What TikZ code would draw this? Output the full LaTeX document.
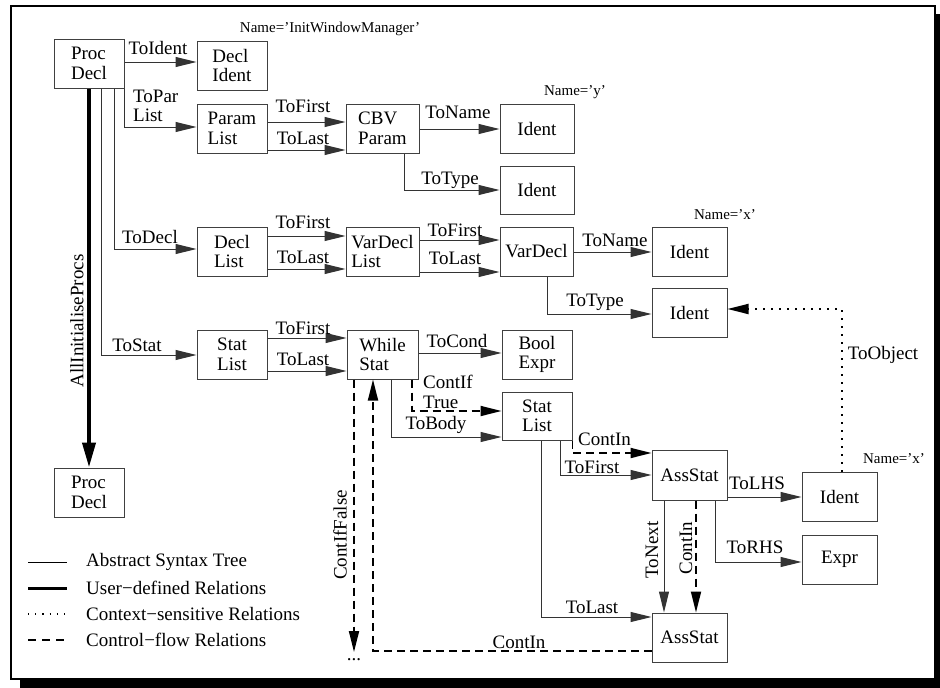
\documentclass[tikz,border=0pt]{standalone}
\usepackage{fontspec}
\setmainfont{Liberation Serif}
\usetikzlibrary{arrows.meta}
\begin{document}
\begin{tikzpicture}[x=1pt,y=-1pt,
  box/.style={draw=black!75,line width=1pt,rectangle,inner sep=0pt,minimum height=49pt,align=left,font=\fontsize{19}{19.5}\selectfont},
  lbl/.style={inner sep=0pt,font=\fontsize{19}{19.5}\selectfont},
  nm/.style={inner sep=0pt,font=\fontsize{15}{15}\selectfont},
  ast/.style={draw=black!80,line width=1pt,-{Triangle[length=21pt,width=10pt]}},
  usr/.style={draw=black,line width=4pt,-{Triangle[length=25pt,width=13pt]}},
  ctl/.style={draw=black,line width=1.8pt,dash pattern=on 8pt off 5pt,-{Triangle[length=21pt,width=10pt]}},
  ctx/.style={draw=black,line width=1.8pt,dash pattern=on 2pt off 6pt,-{Triangle[length=21pt,width=10pt]}}
]
\useasboundingbox (0,0) rectangle (940,688);
% frame with shadow
\fill[black] (20,679) rectangle (940,688);
\fill[black] (935,14) rectangle (940,688);
\draw[line width=2pt] (11,6) rectangle (935,679);

% boxes
\node[box,minimum width=70pt] (pd) at (89,63.5) {Proc\\Decl};
\node[box,minimum width=70pt] (di) at (232,65.5) {Decl\\Ident};
\node[box,minimum width=70pt] (pl) at (232,128.5) {Param\\List};
\node[box,minimum width=73pt] (cbv) at (382.5,128.5) {CBV\\Param};
\node[box,minimum width=74pt] (id1) at (537,128.5) {Ident};
\node[box,minimum width=74pt,minimum height=48pt] (id2) at (537,190) {Ident};
\node[box,minimum width=70pt] (dl) at (232,251.5) {Decl\\List};
\node[box,minimum width=73pt] (vdl) at (382.5,251.5) {VarDecl\\List};
\node[box,minimum width=73pt] (vd) at (536.5,251.5) {VarDecl};
\node[box,minimum width=75pt] (idx) at (689.5,251.5) {Ident};
\node[box,minimum width=75pt] (idt) at (689.5,312.5) {Ident};
\node[box,minimum width=70pt] (sl1) at (232,354.5) {Stat\\List};
\node[box,minimum width=71pt] (ws) at (382.5,354.5) {While\\Stat};
\node[box,minimum width=70pt] (be) at (537,354.5) {Bool\\Expr};
\node[box,minimum width=70pt,minimum height=48pt] (sl2) at (537,416) {Stat\\List};
\node[box,minimum width=70pt] (pd2) at (89,492.5) {Proc\\Decl};
\node[box,minimum width=75pt,minimum height=50pt] (as1) at (689.5,475) {AssStat};
\node[box,minimum width=75pt] (as2) at (689.5,637.5) {AssStat};
\node[box,minimum width=75pt] (id3) at (839.5,496.5) {Ident};
\node[box,minimum width=75pt] (ex) at (839.5,559.5) {Expr};

% name labels
\node[nm] (n1) at (330,29) {Name='InitWindowManager'};
\node[nm] (n2) at (575,92) {Name='y'};
\node[nm] (n3) at (725,215) {Name='x'};
\node[nm] (n4) at (894,459) {Name='x'};

% AST connectors
\draw[ast] (pd.east |- 0,62) -- (di.west |- 0,62);
\draw[ast] (pd.south east) |- (pl.west |- 0,127);
\draw[ast] (pd.south -| 114,0) |- (dl.west |- 0,249);
\draw[ast] (pd.south -| 101,0) |- (sl1.west |- 0,355);
\draw[ast] (pl.east |- 0,122) -- (cbv.west |- 0,122);
\draw[ast] (pl.east |- 0,150) -- (cbv.west |- 0,150);
\draw[ast] (cbv.east |- 0,129) -- (id1.west |- 0,129);
\draw[ast] (cbv.south -| 404,0) |- (id2.west |- 0,190);
\draw[ast] (dl.east |- 0,236) -- (vdl.west |- 0,236);
\draw[ast] (dl.east |- 0,269) -- (vdl.west |- 0,269);
\draw[ast] (vdl.east |- 0,240) -- (vd.west |- 0,240);
\draw[ast] (vdl.east |- 0,272) -- (vd.west |- 0,272);
\draw[ast] (vd.east |- 0,252) -- (idx.west |- 0,252);
\draw[ast] (vd.south -| 547,0) |- (idt.west |- 0,314);
\draw[ast] (sl1.east |- 0,338) -- (ws.west |- 0,338);
\draw[ast] (sl1.east |- 0,371) -- (ws.west |- 0,371);
\draw[ast] (ws.east |- 0,353) -- (be.west |- 0,353);
\draw[ast] (ws.south -| 391,0) |- (sl2.west |- 0,437);
\draw[ast] (sl2.south -| 560,0) |- (as1.west |- 0,475);
\draw[ast] (sl2.south -| 541,0) |- (as2.west |- 0,617);
\draw[ast] (as1.south -| 664,0) -- (as2.north -| 664,0);
\draw[ast] (as1.east |- 0,497) -- (id3.west |- 0,497);
\draw[ast] (as1.south -| 715,0) |- (ex.west |- 0,562);

% user-defined relation
\draw[usr] (pd.south) -- (pd2.north);

% control flow
\coordinate (dots) at (354,652);
\coordinate (corner) at (373,651);
\draw[ctl] (ws.south -| 354,0) -- (dots);
\node[lbl] (dd) at (354,660) {...};
\draw[ctl] (as2.west |- 0,651) -- (corner) -- (ws.south -| 373,0);
\draw[ctl] (ws.south -| 412,0) |- (sl2.west |- 0,411);
\draw[ctl] (sl2.south east) |- (as1.west |- 0,453);
\draw[ctl] (as1.south -| 696,0) -- (as2.north -| 696,0);

% context-sensitive
\draw[ctx] (id3.north -| 842,0) |- (idt.east |- 0,309);

% connector labels
\node[lbl] (l1) at (158,48) {ToIdent};
\node[lbl,anchor=west,align=left] (l2) at (133,106) {ToPar\\List};
\node[lbl] (l3) at (303,106) {ToFirst};
\node[lbl] (l4) at (303,138) {ToLast};
\node[lbl] (l5) at (458,112) {ToName};
\node[lbl] (l6) at (450,180) {ToType};
\node[lbl] (l7) at (150,237) {ToDecl};
\node[lbl] (l8) at (303,222) {ToFirst};
\node[lbl] (l9) at (303,257) {ToLast};
\node[lbl] (l10) at (455,230) {ToFirst};
\node[lbl] (l11) at (455,258) {ToLast};
\node[lbl] (l12) at (615,240) {ToName};
\node[lbl] (l13) at (595,302) {ToType};
\node[lbl] (l14) at (137,345) {ToStat};
\node[lbl] (l15) at (303,328) {ToFirst};
\node[lbl] (l16) at (303,359) {ToLast};
\node[lbl] (l17) at (457,341) {ToCond};
\node[lbl,anchor=west,align=left] (l18) at (423,392) {ContIf\\True};
\node[lbl] (l19) at (436,425) {ToBody};
\node[lbl,anchor=west] (l20) at (578,439) {ContIn};
\node[lbl] (l21) at (592,467) {ToFirst};
\node[lbl] (l22) at (592,607) {ToLast};
\node[lbl,rotate=90] (l23) at (652,550) {ToNext};
\node[lbl,rotate=90] (l24) at (686,548) {ContIn};
\node[lbl] (l25) at (757,483) {ToLHS};
\node[lbl] (l26) at (755,547) {ToRHS};
\node[lbl] (l27) at (519,642) {ContIn};
\node[lbl,rotate=90] (l28) at (340,535) {ContIfFalse};
\node[lbl,rotate=90] (l29) at (77,321) {AllInitialiseProcs};
\node[lbl] (l30) at (883,355) {ToObject};

% legend
\coordinate (g1a) at (28,562); \coordinate (g1b) at (67,562);
\coordinate (g2a) at (28,588); \coordinate (g2b) at (67,588);
\coordinate (g3a) at (28,614); \coordinate (g3b) at (67,614);
\coordinate (g4a) at (28,640); \coordinate (g4b) at (67,640);
\draw[line width=1pt] (g1a) -- (g1b);
\draw[line width=3pt] (g2a) -- (g2b);
\draw[line width=1.2pt,dash pattern=on 1.2pt off 6pt] (g3a) -- (g3b);
\draw[line width=1.8pt,dash pattern=on 8pt off 6pt] (g4a) -- (g4b);
\node[lbl,anchor=west] (t1) at (86,562) {Abstract Syntax Tree};
\node[lbl,anchor=west] (t2) at (86,588) {User−defined Relations};
\node[lbl,anchor=west] (t3) at (86,614) {Context−sensitive Relations};
\node[lbl,anchor=west] (t4) at (86,640) {Control−flow Relations};
\end{tikzpicture}
\end{document}
